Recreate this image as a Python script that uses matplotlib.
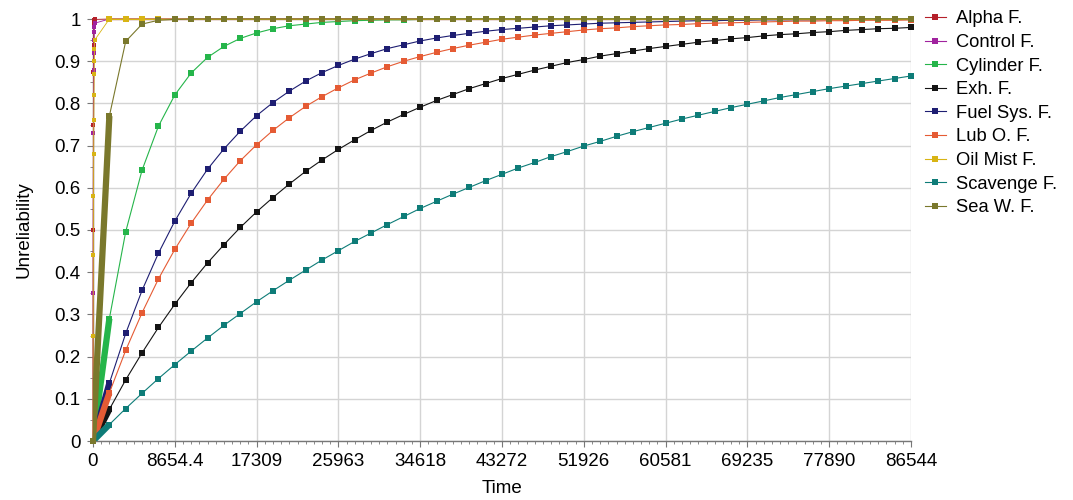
import numpy as np
import matplotlib
matplotlib.use("Agg")
import matplotlib.pyplot as plt
from matplotlib.ticker import MultipleLocator, FixedLocator

plt.rcParams['font.family'] = ['Liberation Sans', 'DejaVu Sans']

# time grid (51 coarse samples) and fine grid for the very fast failure modes
t_max = 86544
t_coarse = np.linspace(0, t_max, 51)
t_fine = np.linspace(0, 173.088, 11)
x_ticks = [0, 8654.4, 17309, 25963, 34618, 43272, 51926, 60581, 69235, 77890, 86544]
x_labels = ['0', '8654.4', '17309', '25963', '34618', '43272', '51926', '60581',
            '69235', '77890', '86544']
y_ticks = [0, 0.1, 0.2, 0.3, 0.4, 0.5, 0.6, 0.7, 0.8, 0.9, 1.0]
y_labels = ['0', '0.1', '0.2', '0.3', '0.4', '0.5', '0.6', '0.7', '0.8', '0.9', '1']

names = ['Alpha F.', 'Control F.', 'Cylinder F.', 'Exh. F.', 'Fuel Sys. F.',
         'Lub O. F.', 'Oil Mist F.', 'Scavenge F.', 'Sea W. F.']
colors = ['#B5202A', '#A0229E', '#25B54A', '#141414', '#1E1E72',
          '#E55B34', '#D8B414', '#0E7C78', '#7A782C']

# fast modes: fine samples then all ~1
alpha_fine = [0, .5, .75, .875, .938, .969, .984, .992, .996, .998, .999]
control_fine = [0, .35, .58, .73, .82, .88, .92, .95, .97, .98, .99]
oilmist_fine = [0, .25, .44, .58, .68, .76, .82, .87, .90, .93, .95]
ones_after = [1.0] * 50

cylinder = [0, .29, .496, .642, .746, .820, .872, .909, .935, .954, .967, .977, .984,
            .988, .992, .994, .996, .997, .998, .998, .999] + [1.0] * 30
exh = [0, .075, .145, .209, .269, .324, .375, .422, .465, .506,
       .543, .577, .609, .639, .666, .691, .714, .736, .756, .774,
       .791, .807, .821, .835, .847, .859, .869, .879, .888, .897,
       .904, .912, .918, .924, .930, .935, .940, .945, .949, .953,
       .956, .960, .963, .965, .968, .970, .973, .975, .977, .978, .980]
fuel = [0, .137, .255, .357, .445, .521, .587, .644, .692, .734,
        .771, .802, .829, .853, .873, .890, .905, .918, .930, .939,
        .948, .955, .961, .966, .971, .975, .978, .981, .984, .986,
        .988, .990, .991, .992, .993, .994, .995, .996, .996, .997,
        .997, .998, .998, .998, .998, .999, .999, .999, .999, .999, .999]
lub = [0, .114, .215, .304, .384, .454, .516, .571, .620, .664,
       .702, .736, .766, .793, .816, .837, .856, .872, .887, .900,
       .911, .921, .930, .938, .945, .952, .957, .962, .966, .970,
       .974, .977, .979, .982, .984, .986, .987, .989, .990, .991,
       .992, .993, .994, .995, .995, .996, .996, .997, .997, .997, .998]
scavenge = [0, .039, .077, .113, .148, .181, .213, .244, .274, .302,
            .330, .356, .381, .405, .429, .451, .473, .493, .513, .532,
            .551, .568, .585, .601, .617, .632, .647, .660, .674, .686,
            .699, .710, .722, .733, .743, .753, .763, .772, .781, .790,
            .798, .806, .814, .821, .828, .835, .841, .847, .853, .859, .865]
seaw = [0, .77, .947, .988, .997, .999] + [1.0] * 45

fig = plt.figure(figsize=(10.73, 5.0), dpi=100)
ax = fig.add_axes([93 / 1073, 59 / 500, (911 - 93) / 1073, (441 - 19) / 500])

fast = {0: alpha_fine, 1: control_fine, 6: oilmist_fine}
slow = {2: cylinder, 3: exh, 4: fuel, 5: lub, 7: scavenge, 8: seaw}

for i, name in enumerate(names):
    c = colors[i]
    if i in fast:
        x = np.concatenate([t_fine, t_coarse[1:]])
        y = fast[i] + ones_after
        ax.plot(t_coarse[1:], ones_after, color=c, lw=0.8, marker='s', ms=4.2, mew=0,
                label=name, clip_on=False, zorder=3 + i)
        ax.plot(x, y, color=c, lw=0.6, marker='s', ms=2.4, mew=0,
                clip_on=False, zorder=3 + i)
    else:
        y = slow[i]
        # densely sampled first interval shows as a thick band
        ax.plot(t_coarse[:2], y[:2], color=c, lw=4.5, solid_capstyle='butt',
                zorder=3 + i)
        ax.plot(t_coarse, y, color=c, lw=0.8, marker='s', ms=4.2, mew=0,
                label=name, clip_on=False, zorder=3 + i)

ax.set_xlim(0, t_max)
ax.set_ylim(0, 1)
ax.xaxis.set_major_locator(FixedLocator(x_ticks))
ax.set_xticklabels(x_labels)
ax.xaxis.set_minor_locator(MultipleLocator(t_max / 100))
ax.yaxis.set_major_locator(FixedLocator(y_ticks))
ax.set_yticklabels(y_labels)
ax.yaxis.set_minor_locator(MultipleLocator(0.05))

ax.grid(True, which='major', color='#D4D4D4', lw=1.0)
ax.set_axisbelow(True)
for s in ['top', 'right']:
    ax.spines[s].set_visible(False)
for s in ['left', 'bottom']:
    ax.spines[s].set_color('#777777')
    ax.spines[s].set_linewidth(1.0)
ax.tick_params(which='major', length=4, color='#777777', labelsize=13.5, pad=5)
ax.tick_params(which='minor', length=2.5, color='#777777')

ax.set_xlabel('Time', fontsize=13.5, labelpad=7)
ax.set_ylabel('Unreliability', fontsize=13.5, labelpad=16)

fig.legend(loc='upper left', bbox_to_anchor=(918 / 1073, 1 - 3 / 500), frameon=False,
           fontsize=13.2, handlelength=1.1, handletextpad=0.6, labelspacing=0.36,
           markerscale=0.9, borderaxespad=0)

fig.savefig('out.png', dpi=100)
